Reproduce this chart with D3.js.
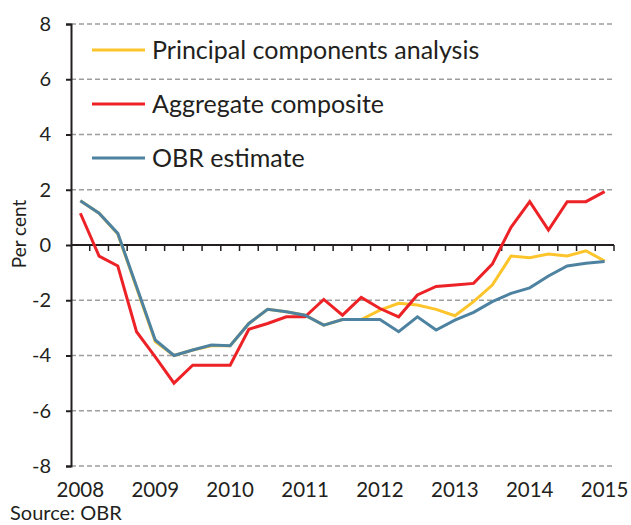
<!DOCTYPE html>
<html lang="en">
<head>
<meta charset="UTF-8">
<title>Output gap estimates</title>
<script src="https://cdn.jsdelivr.net/npm/d3@7"></script>
<style>
  body { margin: 0; background: #fff; }
  svg text { font-family: "Lato", sans-serif; fill: #231f20; }
</style>
</head>
<body>
<svg id="chart" width="631" height="525"></svg>
<script>
// quarters 2008Q1 .. 2015Q1
const quarters = [];
for (let y = 2008; y <= 2015; y++) {
  for (let q = 1; q <= 4; q++) {
    if (y === 2015 && q > 1) break;
    quarters.push(y + "Q" + q);
  }
}
const yearLabels = ["2008", "2009", "2010", "2011", "2012", "2013", "2014", "2015"];
const yTicks = [-8, -6, -4, -2, 0, 2, 4, 6, 8];

const pca = [1.6, 1.15, 0.4, -1.55, -3.5, -4.0, -3.8, -3.65, -3.65, -2.84, -2.33, -2.42, -2.54, -2.9, -2.7,
  -2.7, -2.36, -2.11, -2.17, -2.33, -2.56, -2.05, -1.45, -0.4, -0.46, -0.33, -0.4, -0.21, -0.58];
const aggregate = [1.15, -0.4, -0.76, -3.14, -4.05, -5.0, -4.35, -4.35, -4.35, -3.05, -2.84, -2.6, -2.6, -1.97, -2.54,
  -1.9, -2.3, -2.6, -1.81, -1.5, -1.45, -1.39, -0.69, 0.64, 1.57, 0.54, 1.57, 1.57, 1.93];
const obr = [1.6, 1.15, 0.42, -1.5, -3.44, -4.0, -3.8, -3.62, -3.65, -2.84, -2.33, -2.42, -2.54, -2.9, -2.7,
  -2.7, -2.7, -3.14, -2.6, -3.08, -2.72, -2.44, -2.05, -1.75, -1.55, -1.12, -0.76, -0.66, -0.6];

const seriesNames = ["Principal components analysis", "Aggregate composite", "OBR estimate"];
const seriesColors = ["#fdc52b", "#ec2227", "#4e82a1"];
const seriesData = [pca, aggregate, obr];

const svg = d3.select("#chart");

const x = d3.scaleBand().domain(quarters).range([71, 614]).padding(0);
const y = d3.scaleLinear().domain([-8, 8]).range([466, 24]);

// dashed gridlines
svg.append("g").selectAll("line").data(yTicks.filter(d => d !== 0))
  .enter().append("line")
  .attr("x1", 71).attr("x2", 612)
  .attr("y1", d => y(d)).attr("y2", d => y(d))
  .attr("stroke", "#9d9d9f").attr("stroke-width", 1.5)
  .attr("stroke-dasharray", "5,3");

// y axis
const yaxis = d3.axisLeft(y).tickValues(yTicks).tickSize(5).tickPadding(15)
  .tickFormat(d => d);
svg.append("g").attr("transform", "translate(71,0)").call(yaxis)
  .call(g => g.select(".domain").attr("stroke", "#231f20").attr("stroke-width", 2))
  .call(g => g.selectAll(".tick line").attr("stroke", "#231f20").attr("stroke-width", 2))
  .call(g => g.selectAll(".tick text").attr("font-size", 20).attr("fill", "#231f20")
    .style("font-family", "Lato, sans-serif"));

// zero line with quarter ticks
const bounds = quarters.map(q => x(q)).concat([x.range()[1]]);
svg.append("line").attr("x1", 71).attr("x2", 614)
  .attr("y1", y(0)).attr("y2", y(0))
  .attr("stroke", "#231f20").attr("stroke-width", 2);
svg.append("g").selectAll("line").data(bounds.slice(1))
  .enter().append("line")
  .attr("x1", d => d).attr("x2", d => d)
  .attr("y1", y(0)).attr("y2", y(0) + 6)
  .attr("stroke", "#231f20").attr("stroke-width", 1.5);

// year labels
svg.append("g").selectAll("text").data(yearLabels)
  .enter().append("text")
  .attr("x", d => x(d + "Q1") + x.bandwidth() / 2)
  .attr("y", 497)
  .attr("text-anchor", "middle")
  .attr("font-size", 20.5)
  .text(d => d);

// y title
svg.append("text")
  .attr("transform", "translate(26,234) rotate(-90)")
  .attr("text-anchor", "middle")
  .attr("font-size", 19)
  .text("Per cent");

// series lines
const line = d3.line()
  .x((d, i) => x(quarters[i]) + x.bandwidth() / 2)
  .y(d => y(d));
seriesData.forEach((s, k) => {
  svg.append("path").datum(s)
    .attr("fill", "none")
    .attr("stroke", seriesColors[k])
    .attr("stroke-width", 3)
    .attr("stroke-linejoin", "miter")
    .attr("d", line);
});

// legend
const legend = svg.append("g").selectAll("g").data(seriesNames)
  .enter().append("g")
  .attr("transform", (d, i) => "translate(92," + (50 + i * 54) + ")");
legend.append("line").attr("x1", 0).attr("x2", 53)
  .attr("stroke", (d, i) => seriesColors[i]).attr("stroke-width", 3);
legend.append("text").attr("x", 60).attr("y", 8.5)
  .attr("font-size", 25)
  .text(d => d);

// source
svg.append("text").attr("x", 10).attr("y", 520)
  .attr("font-size", 20)
  .text("Source: OBR");
</script>
</body>
</html>
